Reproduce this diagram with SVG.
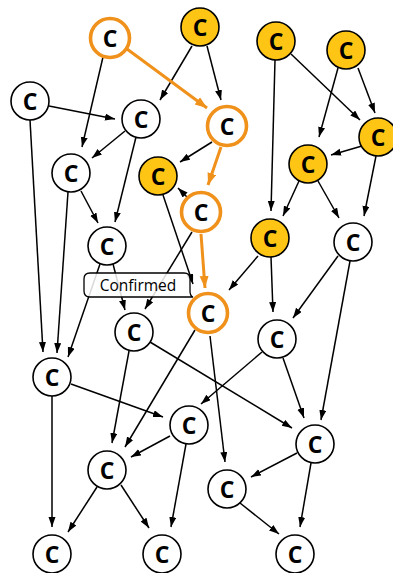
<svg xmlns="http://www.w3.org/2000/svg" width="393" height="573" viewBox="0 0 393 573">
<defs>
<marker id="ah" markerUnits="userSpaceOnUse" markerWidth="11" markerHeight="8" refX="10" refY="3.5" orient="auto"><path d="M0,0 L10,3.5 L0,7 Z" fill="#000"/></marker>
<marker id="ao" markerUnits="userSpaceOnUse" markerWidth="13" markerHeight="10" refX="12" refY="4.5" orient="auto"><path d="M0,0 L12,4.5 L0,9 Z" fill="#EF911A"/></marker>
<style>
.e{stroke:#000;stroke-width:1.5;fill:none;marker-end:url(#ah)}
.eo{stroke:#EF911A;stroke-width:3;fill:none;marker-end:url(#ao)}
.w{fill:#fff;stroke:#000;stroke-width:1.6}
.y{fill:#FFC515;stroke:#000;stroke-width:1.6}
.o{fill:#fff;stroke:#EF911A;stroke-width:3.6}
.t{font-family:"Open Sans","DejaVu Sans",sans-serif;font-weight:bold;font-size:23px;fill:#000;text-anchor:middle;dominant-baseline:central}
.lb{fill:#fff;fill-opacity:0.85;stroke:#000;stroke-width:1.3}
.lt{font-family:"Open Sans","DejaVu Sans",sans-serif;font-weight:500;font-size:15.5px;fill:#000;text-anchor:middle}
</style>
</defs>
<g id="edges">
<line class="e" x1="192" y1="46" x2="160" y2="100"/>
<line class="e" x1="207" y1="46" x2="221" y2="100"/>
<line class="e" x1="103" y1="57" x2="82" y2="147"/>
<line class="e" x1="49" y1="106" x2="115" y2="119"/>
<line class="e" x1="125" y1="131" x2="92" y2="158"/>
<line class="e" x1="30" y1="120" x2="43" y2="352"/>
<line class="e" x1="68" y1="192" x2="57" y2="353"/>
<line class="e" x1="81" y1="191" x2="98" y2="223"/>
<line class="e" x1="136" y1="137" x2="115" y2="222"/>
<line class="e" x1="212" y1="142" x2="180" y2="162"/>
<line class="e" x1="187" y1="197" x2="178" y2="188"/>
<line class="e" x1="163" y1="195" x2="193" y2="284"/>
<line class="e" x1="100" y1="264" x2="68" y2="357"/>
<line class="e" x1="113" y1="264" x2="125" y2="310"/>
<line class="e" x1="192" y1="232" x2="145" y2="309"/>
<line class="e" x1="275" y1="60" x2="271" y2="211"/>
<line class="e" x1="291" y1="54" x2="360" y2="120"/>
<line class="e" x1="338" y1="68" x2="319" y2="137"/>
<line class="e" x1="358" y1="68" x2="375" y2="113"/>
<line class="e" x1="362" y1="146" x2="331" y2="155"/>
<line class="e" x1="299" y1="181" x2="283" y2="216"/>
<line class="e" x1="318" y1="181" x2="339" y2="218"/>
<line class="e" x1="376" y1="156" x2="364" y2="216"/>
<line class="e" x1="258" y1="256" x2="229" y2="290"/>
<line class="e" x1="271" y1="257" x2="273" y2="312"/>
<line class="e" x1="338" y1="256" x2="293" y2="318"/>
<line class="e" x1="350" y1="261" x2="321" y2="420"/>
<line class="e" x1="283" y1="358" x2="304" y2="418"/>
<line class="e" x1="262" y1="352" x2="201" y2="404"/>
<line class="e" x1="210" y1="336" x2="225" y2="462"/>
<line class="e" x1="150" y1="342" x2="292" y2="428"/>
<line class="e" x1="195" y1="330" x2="125" y2="447"/>
<line class="e" x1="129" y1="351" x2="112" y2="443"/>
<line class="e" x1="71" y1="384" x2="163" y2="417"/>
<line class="e" x1="170" y1="436" x2="131" y2="457"/>
<line class="e" x1="52" y1="396" x2="52" y2="527"/>
<line class="e" x1="97" y1="487" x2="68" y2="532"/>
<line class="e" x1="121" y1="485" x2="149" y2="528"/>
<line class="e" x1="186" y1="444" x2="171" y2="527"/>
<line class="e" x1="297" y1="453" x2="251" y2="477"/>
<line class="e" x1="311" y1="463" x2="300" y2="527"/>
<line class="e" x1="240" y1="503" x2="279" y2="534"/>
<line class="eo" x1="127" y1="49" x2="207" y2="108"/>
<line class="eo" x1="221" y1="147" x2="208" y2="185"/>
<line class="eo" x1="201" y1="234" x2="205" y2="288"/>
</g>
<g id="label-confirmed">
<path class="lb" d="M90,273 H184 Q190,273 190,279 V291 Q190,296 193,297 H90 Q84,297 84,291 V279 Q84,273 90,273 Z"/>
<text class="lt" x="138" y="291">Confirmed</text>
</g>
<g id="nA"><circle class="o" cx="110" cy="38" r="19.5"/><text class="t" x="110" y="38">C</text></g>
<g id="nB"><circle class="y" cx="200" cy="27" r="19"/><text class="t" x="200" y="27">C</text></g>
<g id="nC"><circle class="w" cx="30" cy="101" r="19"/><text class="t" x="30" y="101">C</text></g>
<g id="nD"><circle class="w" cx="141" cy="119" r="19"/><text class="t" x="141" y="119">C</text></g>
<g id="nE"><circle class="w" cx="71" cy="173" r="19"/><text class="t" x="71" y="173">C</text></g>
<g id="nF"><circle class="y" cx="158" cy="176" r="19"/><text class="t" x="158" y="176">C</text></g>
<g id="nG"><circle class="o" cx="227" cy="126" r="19.5"/><text class="t" x="227" y="126">C</text></g>
<g id="nH"><circle class="y" cx="276" cy="41" r="19"/><text class="t" x="276" y="41">C</text></g>
<g id="nI"><circle class="y" cx="346" cy="50" r="19"/><text class="t" x="346" y="50">C</text></g>
<g id="nJ"><circle class="y" cx="378" cy="137" r="19"/><text class="t" x="378" y="137">C</text></g>
<g id="nK"><circle class="y" cx="308" cy="164" r="19"/><text class="t" x="308" y="164">C</text></g>
<g id="nL"><circle class="o" cx="201" cy="212" r="19.5"/><text class="t" x="201" y="212">C</text></g>
<g id="nM"><circle class="w" cx="107" cy="246" r="19"/><text class="t" x="107" y="246">C</text></g>
<g id="nN"><circle class="y" cx="270" cy="238" r="19"/><text class="t" x="270" y="238">C</text></g>
<g id="nO"><circle class="w" cx="353" cy="242" r="19"/><text class="t" x="353" y="242">C</text></g>
<g id="nP"><circle class="o" cx="208" cy="313" r="19.5"/><text class="t" x="208" y="313">C</text></g>
<g id="nQ"><circle class="w" cx="134" cy="332" r="19"/><text class="t" x="134" y="332">C</text></g>
<g id="nR"><circle class="w" cx="277" cy="339" r="19"/><text class="t" x="277" y="339">C</text></g>
<g id="nS"><circle class="w" cx="52" cy="377" r="19"/><text class="t" x="52" y="377">C</text></g>
<g id="nT"><circle class="w" cx="189" cy="425" r="19"/><text class="t" x="189" y="425">C</text></g>
<g id="nU"><circle class="w" cx="107" cy="470" r="19"/><text class="t" x="107" y="470">C</text></g>
<g id="nV"><circle class="w" cx="52" cy="554" r="19"/><text class="t" x="52" y="554">C</text></g>
<g id="nW"><circle class="w" cx="162" cy="554" r="19"/><text class="t" x="162" y="554">C</text></g>
<g id="nX"><circle class="w" cx="315" cy="444" r="19"/><text class="t" x="315" y="444">C</text></g>
<g id="nY"><circle class="w" cx="227" cy="489" r="19"/><text class="t" x="227" y="489">C</text></g>
<g id="nZ"><circle class="w" cx="295" cy="554" r="19"/><text class="t" x="295" y="554">C</text></g>
</svg>
